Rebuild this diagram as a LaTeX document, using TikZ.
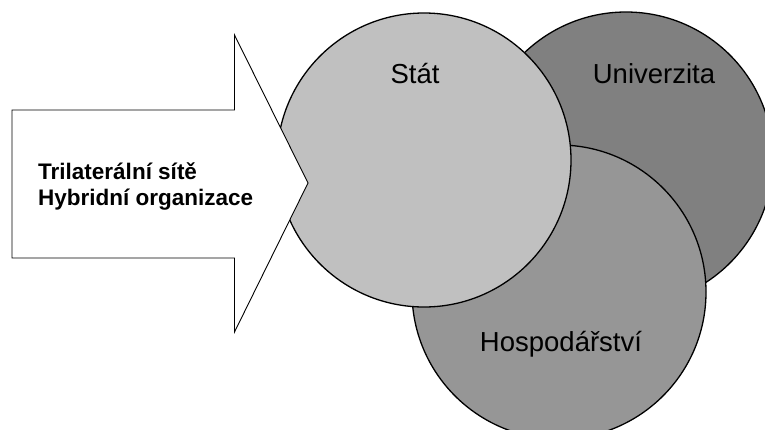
\documentclass[tikz,border=0pt]{standalone}
\usepackage{fontspec}
\setmainfont{Liberation Sans}
\definecolor{uniGray}{RGB}{128,128,128}
\definecolor{hospGray}{RGB}{150,150,150}
\definecolor{statGray}{RGB}{192,192,192}
\begin{document}
\begin{tikzpicture}[x=1pt,y=-1pt,
  sector/.style={circle, draw=black, line width=1.3pt, minimum size=294pt, inner sep=0pt},
  circletext/.style={font=\fontsize{27.5}{30}\selectfont, anchor=base, inner sep=0pt},
  pointer/.style={draw=black, fill=white, line width=0.9pt, line join=miter},
  pointertext/.style={font=\bfseries\fontsize{22.5}{26}\selectfont, align=left, anchor=base west, inner sep=0pt},
]
\useasboundingbox (0,0) rectangle (765,429);
\begin{scope}
  \clip (0,0) rectangle (765,429);
  % three overlapping sectors, back to front
  \node[sector, fill=uniGray]  (uni)  at (626,159) {};
  \node[sector, fill=hospGray] (hosp) at (559,292) {};
  \node[sector, fill=statGray] (stat) at (424,160) {};
\end{scope}
\node[circletext] (statlbl) at (415,83)  {Stát};
\node[circletext] (unilbl)  at (654,83)  {Univerzita};
\node[circletext] (hosplbl) at (561,351) {Hospodářství};
% block arrow pointing into the sectors
\path[pointer] (12,110) -- (234.5,110) -- (234.5,35) -- (308,183)
  -- (234.5,332) -- (234.5,258) -- (12,258) -- cycle;
% the base anchor of this two-line node sits on the last line
\node[pointertext] (arrowlbl) at (38,205) {Trilaterální sítě\\Hybridní organizace};
\end{tikzpicture}
\end{document}
